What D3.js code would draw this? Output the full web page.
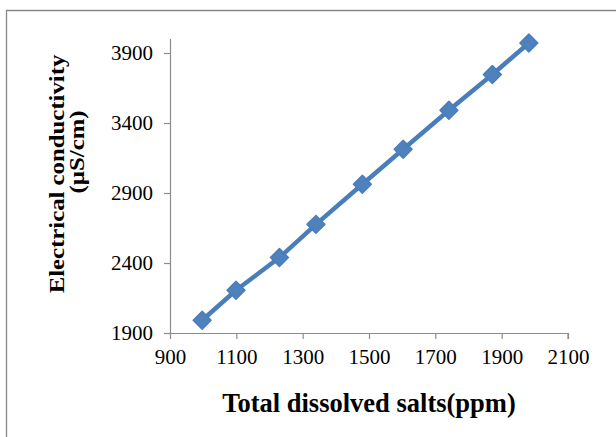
<!DOCTYPE html>
<html>
<head>
<meta charset="utf-8">
<script src="https://cdn.jsdelivr.net/npm/d3@7"></script>
<style>
  body { margin: 0; background: #fff; }
  text { font-family: "Times New Roman", "Liberation Serif", serif; fill: #000; }
</style>
</head>
<body>
<script>
// data
var tds = [997, 1099, 1230, 1340, 1480, 1603, 1741, 1872, 1982];
var ec  = [1991, 2205, 2439, 2676, 2962, 3212, 3491, 3746, 3971];
var xTicks = [900, 1100, 1300, 1500, 1700, 1900, 2100];
var yTicks = [1900, 2400, 2900, 3400, 3900];

var W = 616, H = 437;
var margin = {top: 39, right: 48, bottom: 104, left: 170},
    width = W - margin.left - margin.right,
    height = H - margin.top - margin.bottom;

var blue = "#4a7ebb", grey = "#8c8c8c";

var svg = d3.select("body").append("svg")
    .attr("width", W)
    .attr("height", H);

// outer frame (only left and top edges are in view)
svg.append("path")
    .attr("d", "M6.5," + H + "V10.5H" + W)
    .attr("fill", "none")
    .attr("stroke", "#888")
    .attr("stroke-width", 1.3);

var g = svg.append("g")
    .attr("transform", "translate(" + margin.left + "," + margin.top + ")");

var x = d3.scaleLinear().domain([900, 2100]).range([0, width]);
var y = d3.scaleLinear().domain([1900, 4000]).range([height, 0]);

// axes
var xAxis = g.append("g")
    .attr("transform", "translate(0," + height + ")")
    .call(d3.axisBottom(x).tickValues(xTicks).tickSize(6).tickPadding(10).tickFormat(d3.format("d")));

var yAxis = g.append("g")
    .call(d3.axisLeft(y).tickValues(yTicks).tickSize(6).tickPadding(11).tickFormat(d3.format("d")));

[xAxis, yAxis].forEach(function(a) {
  a.select(".domain").attr("stroke", grey).attr("stroke-width", 1.2);
  a.selectAll(".tick line").attr("stroke", grey).attr("stroke-width", 1.2);
  a.selectAll(".tick text")
      .style("font-family", "'Times New Roman', 'Liberation Serif', serif")
      .style("font-size", "21px")
      .attr("fill", "#000");
});
// keep the domains as plain lines
yAxis.select(".domain").attr("d", "M0.5," + height + "V0");
xAxis.select(".domain").attr("d", "M0," + 0.5 + "H" + width + "V6");

// the series
var pts = tds.map(function(d, i) { return [d, ec[i]]; });

var line = d3.line()
    .x(function(d) { return x(d[0]); })
    .y(function(d) { return y(d[1]); });

g.append("path")
    .datum(pts)
    .attr("d", line)
    .attr("fill", "none")
    .attr("stroke", blue)
    .attr("stroke-width", 4.5)
    .attr("stroke-linejoin", "round");

g.selectAll(".marker")
    .data(pts)
  .enter().append("path")
    .attr("class", "marker")
    .attr("d", d3.symbol().type(d3.symbolSquare).size(160))
    .attr("transform", function(d) {
      return "translate(" + x(d[0]) + "," + y(d[1]) + ") rotate(45)";
    })
    .attr("fill", "#4f81bd")
    .attr("stroke", blue)
    .attr("stroke-width", 1.5)
    .attr("stroke-linejoin", "round");

// axis titles
svg.append("text")
    .attr("x", margin.left + width / 2)
    .attr("y", 412)
    .attr("text-anchor", "middle")
    .style("font-size", "26.5px")
    .style("font-weight", "bold")
    .text("Total dissolved salts(ppm)");

// the y title in the picture is drawn long and narrow, so stretch along the line
svg.append("text")
    .attr("transform", "translate(64,174) rotate(-90) scale(1.18,1)")
    .attr("text-anchor", "middle")
    .style("font-size", "21px")
    .style("font-weight", "bold")
    .text("Electrical conductivity");

svg.append("text")
    .attr("transform", "translate(84,152) rotate(-90) scale(1.18,1)")
    .attr("text-anchor", "middle")
    .style("font-size", "21px")
    .style("font-weight", "bold")
    .text("(µS/cm)");
</script>
</body>
</html>
